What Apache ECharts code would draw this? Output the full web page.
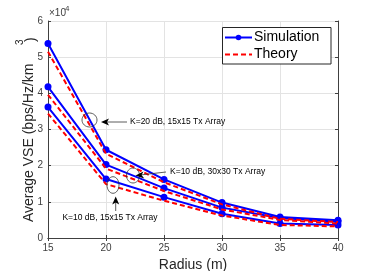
<!DOCTYPE html>
<html><head><meta charset="utf-8">
<script src="https://cdn.jsdelivr.net/npm/echarts@6/dist/echarts.min.js"></script>
<style>html,body{margin:0;padding:0;background:#fff}#c{width:374px;height:271px}</style>
</head><body><div id="c"></div>
<script>
const radius = [15, 20, 25, 30, 35, 40];
const simK20_15 = [53800, 24400, 16200, 9800, 5800, 4900];
const simK10_30 = [41800, 20300, 13800, 8400, 5500, 4500];
const simK10_15 = [36200, 16300, 11300, 6700, 4000, 3600];
const thK20_15 = [51500, 23300, 15400, 9300, 5300, 4400];
const thK10_30 = [39600, 19200, 13000, 7900, 5000, 4000];
const thK10_15 = [34400, 14900, 10300, 6200, 3600, 3200];
const yTicks = [0, 1, 2, 3, 4, 5, 6];
const xTicks = [15, 20, 25, 30, 35, 40];
const legendNames = ['Simulation', 'Theory'];

const FONT = 'Liberation Sans, Arial, sans-serif';
const AX = '#404040';
const pairs = a => radius.map((x, i) => [x, a[i]]);

function sim(d) {
  return { name: 'Simulation', type: 'line', data: pairs(d), symbol: 'circle', symbolSize: 7,
    itemStyle: { color: '#0000ff' }, lineStyle: { color: '#0000ff', width: 2 }, z: 2, animation: false };
}
function th(d) {
  return { name: 'Theory', type: 'line', data: pairs(d), symbol: 'none',
    itemStyle: { color: '#ff0000' }, lineStyle: { color: '#ff0000', width: 2, type: [5, 3] }, z: 3, animation: false };
}

const chart = echarts.init(document.getElementById('c'), null, { renderer: 'canvas' });
const baseX = { type: 'value', min: 15, max: 40, interval: 5 };
const baseY = { type: 'value', min: 0, max: 60000, interval: 10000 };
chart.setOption({
  animation: false,
  grid: { left: 48, right: 36, top: 21, bottom: 33, containLabel: false, outerBoundsMode: 'none' },
  xAxis: [
    Object.assign({}, baseX, { position: 'bottom',
      axisLine: { show: true, lineStyle: { color: AX, width: 1 } },
      axisTick: { show: true, inside: true, length: 3, lineStyle: { color: AX } },
      axisLabel: { color: AX, fontFamily: FONT, fontSize: 10, margin: 5,
        formatter: v => xTicks.includes(v) ? String(v) : '' },
      splitLine: { show: true, lineStyle: { color: '#e3e3e3', width: 1 } },
      name: 'Radius (m)', nameLocation: 'middle', nameGap: 18,
      nameTextStyle: { color: '#262626', fontFamily: FONT, fontSize: 14 } }),
    Object.assign({}, baseX, { position: 'top',
      axisLine: { show: true, lineStyle: { color: AX, width: 1 } },
      axisTick: { show: true, inside: true, length: 3, lineStyle: { color: AX } },
      axisLabel: { show: false }, splitLine: { show: false } })
  ],
  yAxis: [
    Object.assign({}, baseY, { position: 'left',
      axisLine: { show: true, lineStyle: { color: AX, width: 1 } },
      axisTick: { show: true, inside: true, length: 3, lineStyle: { color: AX } },
      axisLabel: { color: AX, fontFamily: FONT, fontSize: 10, margin: 5,
        formatter: v => { const t = v / 10000; return yTicks.includes(t) ? String(t) : ''; } },
      splitLine: { show: true, lineStyle: { color: '#e3e3e3', width: 1 } } }),
    Object.assign({}, baseY, { position: 'right',
      axisLine: { show: true, lineStyle: { color: AX, width: 1 } },
      axisTick: { show: true, inside: true, length: 3, lineStyle: { color: AX } },
      axisLabel: { show: false }, splitLine: { show: false } })
  ],
  series: [sim(simK20_15), sim(simK10_30), sim(simK10_15), th(thK20_15), th(thK10_30), th(thK10_15)],
  graphic: [
    { type: 'text', left: 49, top: 8, style: { text: '×10', font: '10px ' + FONT, fill: AX } },
    { type: 'text', left: 65, top: 5, style: { text: '4', font: '8px ' + FONT, fill: AX } },
    { type: 'text', x: 29, y: 222, rotation: Math.PI / 2,
      style: { text: 'Average VSE (bps/Hz/km', font: '14px ' + FONT, fill: '#262626', align: 'left', verticalAlign: 'middle' } },
    { type: 'text', x: 20, y: 45, rotation: Math.PI / 2,
      style: { text: '3', font: '10px ' + FONT, fill: '#262626', align: 'left', verticalAlign: 'middle' } },
    { type: 'text', x: 31, y: 42, rotation: Math.PI / 2,
      style: { text: ')', font: '14px ' + FONT, fill: '#262626', align: 'left', verticalAlign: 'middle' } },
    // legend
    { type: 'rect', shape: { x: 222.5, y: 27.5, width: 108.5, height: 36.5 }, style: { fill: '#fff', stroke: '#262626', lineWidth: 1 }, z: 20 },
    { type: 'line', shape: { x1: 225, y1: 37.5, x2: 252, y2: 37.5 }, style: { stroke: '#0000ff', lineWidth: 2 }, z: 21 },
    { type: 'circle', shape: { cx: 238.5, cy: 37.5, r: 2.8 }, style: { fill: '#0000ff' }, z: 21 },
    { type: 'line', shape: { x1: 225, y1: 54.5, x2: 252, y2: 54.5 }, style: { stroke: '#ff0000', lineWidth: 2, lineDash: [5, 3] }, z: 21 },
    { type: 'text', x: 254, y: 37.5, style: { text: legendNames[0], font: '14px ' + FONT, fill: '#000', align: 'left', verticalAlign: 'middle' }, z: 21 },
    { type: 'text', x: 254, y: 54.5, style: { text: legendNames[1], font: '14px ' + FONT, fill: '#000', align: 'left', verticalAlign: 'middle' }, z: 21 },
    // K=20 annotation
    { type: 'ellipse', shape: { cx: 89.5, cy: 120, rx: 7.5, ry: 7 }, style: { fill: 'none', stroke: '#333', lineWidth: 0.8 }, z: 10 },
    { type: 'line', shape: { x1: 127, y1: 122, x2: 106, y2: 122 }, style: { stroke: '#333', lineWidth: 0.8 }, z: 10 },
    { type: 'polygon', shape: { points: [[101, 122], [109, 118.5], [107, 122], [109, 125.5]] }, style: { fill: '#000' }, z: 10 },
    { type: 'text', x: 130, y: 122, style: { text: 'K=20 dB, 15x15 Tx Array', font: '8.5px ' + FONT, fill: '#000', align: 'left', verticalAlign: 'middle' }, z: 10 },
    // K=10 30x30 annotation
    { type: 'ellipse', shape: { cx: 133, cy: 175.5, rx: 6.5, ry: 7.5 }, style: { fill: 'none', stroke: '#333', lineWidth: 0.8 }, z: 10 },
    { type: 'line', shape: { x1: 166, y1: 172, x2: 140, y2: 175 }, style: { stroke: '#333', lineWidth: 0.8 }, z: 10 },
    { type: 'polygon', shape: { points: [[135.5, 175.5], [143.5, 171.5], [141.5, 175], [144.3, 178.5]] }, style: { fill: '#000' }, z: 10 },
    { type: 'text', x: 170, y: 172, style: { text: 'K=10 dB, 30x30 Tx Array', font: '8.5px ' + FONT, fill: '#000', align: 'left', verticalAlign: 'middle' }, z: 10 },
    // K=10 15x15 annotation
    { type: 'ellipse', shape: { cx: 113, cy: 185, rx: 6, ry: 8.3 }, style: { fill: 'none', stroke: '#333', lineWidth: 0.8 }, z: 10 },
    { type: 'line', shape: { x1: 115.7, y1: 211, x2: 115.7, y2: 201 }, style: { stroke: '#333', lineWidth: 0.8 }, z: 10 },
    { type: 'polygon', shape: { points: [[115.7, 196.5], [112.2, 204.5], [115.7, 202.5], [119.2, 204.5]] }, style: { fill: '#000' }, z: 10 },
    { type: 'text', x: 110, y: 218, style: { text: 'K=10 dB, 15x15 Tx Array', font: '8.5px ' + FONT, fill: '#000', align: 'center', verticalAlign: 'middle' }, z: 10 }
  ]
});
</script>
</body></html>
